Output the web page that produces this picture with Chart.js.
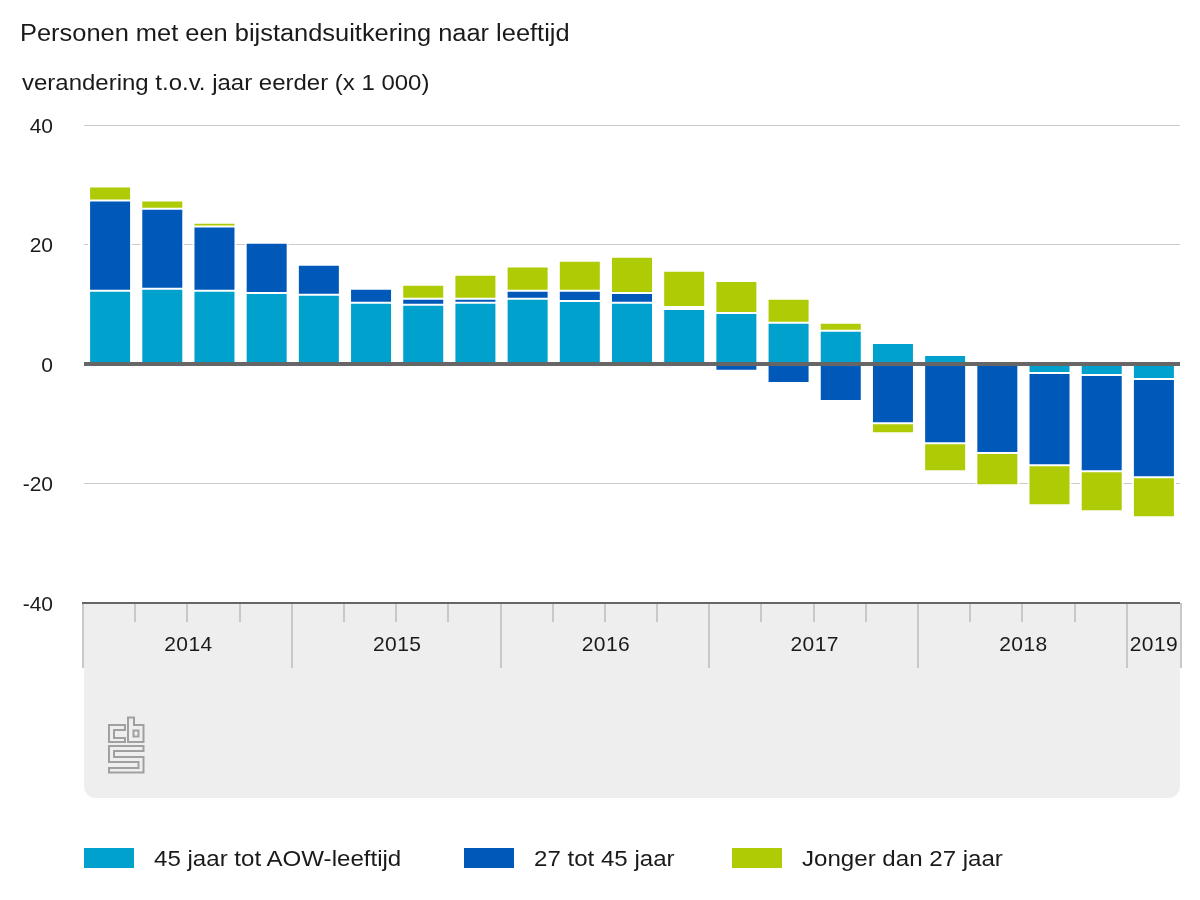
<!DOCTYPE html>
<html>
<head>
<meta charset="utf-8">
<title>Personen met een bijstandsuitkering naar leeftijd</title>
<script src="https://cdn.jsdelivr.net/npm/chart.js@4"></script>
<style>
body { margin: 0; background: #fff; font-family: "Liberation Sans", Arial, sans-serif; color: #1a1a1a; }
#wrap { position: relative; width: 1200px; height: 900px; overflow: hidden; }
#wrap canvas { position: absolute; left: 0; top: 0; }
.txt { position: absolute; white-space: nowrap; transform-origin: left center; }
#title { left: 20px; top: 20px; font-size: 23px; transform: scaleX(1.105); line-height: 27px; }
#subtitle { left: 22px; top: 69px; font-size: 22px; transform: scaleX(1.09); line-height: 27px; }
.swatch { position: absolute; top: 848px; width: 50px; height: 20px; }
.legtext { top: 845px; font-size: 22px; transform: scaleX(1.095); line-height: 27px; }
#logo { position: absolute; left: 100px; top: 710px; }
</style>
</head>
<body>
<div id="wrap">
	<canvas id="chart" width="1200" height="900"></canvas>
	<div class="txt" id="title">Personen met een bijstandsuitkering naar leeftijd</div>
	<div class="txt" id="subtitle">verandering t.o.v. jaar eerder (x 1 000)</div>
	<svg id="logo" width="50" height="70" viewBox="100 710 50 70" fill="none" stroke="#a0a0a0" stroke-width="2">
		<path d="M125 725H109V742H125V738H114V730H125Z"/>
		<path d="M128 717.5H134V725H143.5V742H128ZM133.5 730.5H138.5V736.5H133.5Z"/>
		<path d="M109 746H143.5V751H114V757H143.5V772.5H109V768H138.5V762H109Z"/>
	</svg>
</div>
<script>
// kwartalen, 2014 t/m 2019
var quarters = ['2014-1','2014-2','2014-3','2014-4','2015-1','2015-2','2015-3','2015-4','2016-1','2016-2','2016-3','2016-4','2017-1','2017-2','2017-3','2017-4','2018-1','2018-2','2018-3','2018-4','2019-1'];
var years = ['2014','2015','2016','2017','2018','2019'];
var yearQuarters = [4,4,4,4,4,1];
var yTicks = [-40,-20,0,20,40];

var names = ['45 jaar tot AOW-leeftijd','27 tot 45 jaar','Jonger dan 27 jaar'];
var colors = ['#00a1cd','#0058b8','#afcb05'];

var oudste = [12.25,12.6,12.25,11.9,11.6,10.25,9.9,10.25,10.9,10.55,10.25,9.2,8.55,6.9,5.55,3.5,1.5,null,-1.5,-1.85,-2.5];
var midden = [15.1,13.4,10.75,8.4,5,2.35,1,0.65,1.35,1.7,1.65,0.35,-1.15,-3.2,-6.2,-9.9,-13.25,-14.9,-15.45,-16.1,-16.45];
var jongste = [2.35,1.35,0.65,null,null,null,2.35,4.05,4.05,5.05,6.05,6.05,5.35,4,1.35,-1.7,-4.7,-5.4,-6.7,-6.7,-6.7];
var seriesValues = [oudste, midden, jongste];

var legendLeft = [84,464,732];

var fontName = '"Liberation Sans", Arial, sans-serif';

var panelPlugin = {
	id: 'panel',
	beforeDraw: function(chart){
		var ctx = chart.ctx, a = chart.chartArea;
		ctx.save();
		ctx.fillStyle = '#eeeeee';
		ctx.beginPath();
		ctx.roundRect(a.left, a.bottom, a.right - a.left, 195, [0,0,12,12]);
		ctx.fill();
		ctx.restore();
	},
	afterDatasetsDraw: function(chart){
		var ctx = chart.ctx, a = chart.chartArea, x = chart.scales.x, y = chart.scales.y;
		var step = x.getPixelForValue(1) - x.getPixelForValue(0);
		var base = y.getPixelForValue(-40);
		ctx.save();

		// nullijn over de staven
		ctx.fillStyle = '#666666';
		ctx.fillRect(a.left, y.getPixelForValue(0) - 2, a.right - a.left, 4);

		// tikjes per kwartaal en per jaar
		var start = 0;
		ctx.font = '21px ' + fontName;
		ctx.letterSpacing = '0.4px';
		ctx.textAlign = 'center';
		ctx.textBaseline = 'alphabetic';
		for(var i = 0; i < years.length; i++){
			var left = x.getPixelForValue(start) - step / 2;
			var right = x.getPixelForValue(start + yearQuarters[i] - 1) + step / 2;
			ctx.fillStyle = '#c8c8c8';
			ctx.fillRect(Math.round(left - 2), base, 2, 65);
			for(var q = 1; q < yearQuarters[i]; q++){
				ctx.fillRect(Math.round(left + q * step - 2), base, 2, 19);
			}
			if(i == years.length - 1){
				ctx.fillRect(Math.round(right), base, 2, 65);
			}
			ctx.fillStyle = '#1a1a1a';
			ctx.fillText(years[i], (left + right) / 2, 651);
			start += yearQuarters[i];
		}

		ctx.fillStyle = '#666666';
		ctx.fillRect(a.left - 2, base - 1, a.right - a.left + 2, 2);
		ctx.restore();
	}
};

new Chart(document.getElementById('chart'), {
	type: 'bar',
	data: {
		labels: quarters,
		datasets: seriesValues.map(function(values, i){
			return {
				label: names[i],
				data: values,
				backgroundColor: colors[i],
				borderColor: '#ffffff',
				borderWidth: {top: 1, bottom: 1, left: 2, right: 2},
				borderSkipped: false,
				inflateAmount: 0,
				barThickness: 44
			};
		})
	},
	options: {
		responsive: false,
		animation: false,
		devicePixelRatio: 1,
		layout: { padding: { left: 0, right: 20, top: 125, bottom: 289 } },
		plugins: {
			legend: { display: false },
			title: { display: false },
			tooltip: { enabled: false }
		},
		scales: {
			x: {
				stacked: true,
				grid: { display: false },
				border: { display: false },
				ticks: { display: false }
			},
			y: {
				stacked: true,
				min: yTicks[0],
				max: yTicks[yTicks.length - 1],
				afterBuildTicks: function(scale){
					scale.ticks = yTicks.map(function(v){ return {value: v}; });
				},
				afterFit: function(scale){ scale.width = 84; },
				border: { display: false },
				grid: {
					drawTicks: false,
					color: function(c){
						return (c.tick.value == 0 || c.tick.value == -40) ? 'rgba(0,0,0,0)' : '#cccccc';
					}
				},
				ticks: {
					color: '#1a1a1a',
					padding: 31,
					labelOffset: 2,
					font: { family: fontName, size: 21 }
				}
			}
		}
	},
	plugins: [panelPlugin]
});

// legenda onder de grafiek
var wrap = document.getElementById('wrap');
names.forEach(function(name, i){
	var box = document.createElement('div');
	box.className = 'swatch';
	box.style.left = legendLeft[i] + 'px';
	box.style.background = colors[i];
	wrap.appendChild(box);

	var label = document.createElement('div');
	label.className = 'txt legtext';
	label.style.left = (legendLeft[i] + 70) + 'px';
	label.textContent = name;
	wrap.appendChild(label);
});
</script>
</body>
</html>
